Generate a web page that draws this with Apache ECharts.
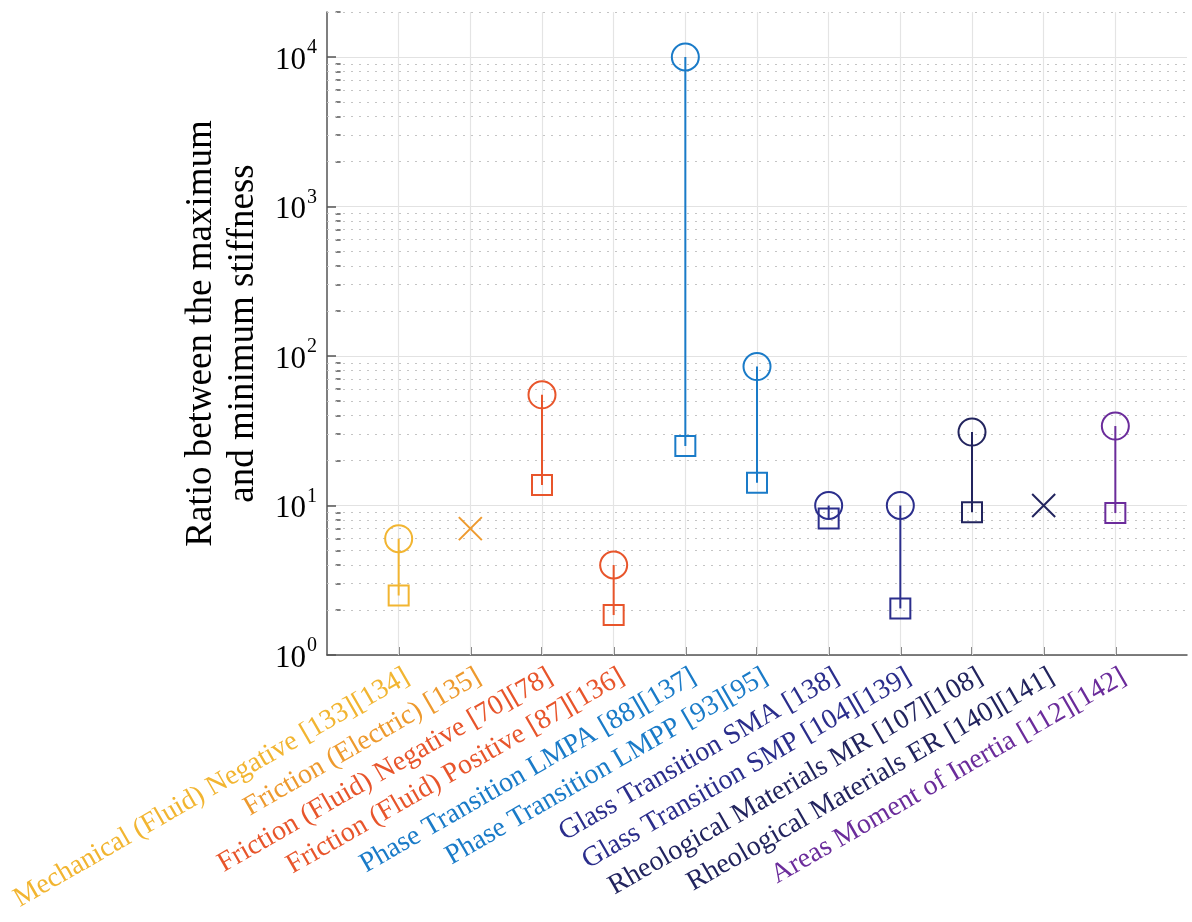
<!DOCTYPE html>
<html>
<head>
<meta charset="utf-8">
<script src="https://cdn.jsdelivr.net/npm/echarts@6/dist/echarts.min.js"></script>
<style>html,body{margin:0;padding:0;background:#fff;}#c{width:1192px;height:922px;}</style>
</head>
<body>
<div id="c"></div>
<script>
const categories = [
  'Mechanical (Fluid) Negative [133][134]',
  'Friction (Electric) [135]',
  'Friction (Fluid) Negative [70][78]',
  'Friction (Fluid) Positive [87][136]',
  'Phase Transition LMPA [88][137]',
  'Phase Transition LMPP [93][95]',
  'Glass Transition SMA [138]',
  'Glass Transition SMP [104][139]',
  'Rheological Materials MR [107][108]',
  'Rheological Materials ER [140][141]',
  'Areas Moment of Inertia [112][142]'
];
const colors = ['#F2B531','#EE9A2E','#E8552B','#E8552B','#1A7BC8','#1A7BC8','#2B2E8C','#2B2E8C','#22245E','#22245E','#6B2C9B'];
const maxVals = [6, null, 55, 4, 10000, 85, 10, 10, 31, null, 34];
const minVals = [2.5, null, 13.7, 1.85, 25, 14.2, 8.2, 2.05, 9, null, 8.9];
const singleVals = [null, 7, null, null, null, null, null, null, null, 10, null];
const yMajorTicks = [1, 10, 100, 1000, 10000];
const yMinorTicks = [2,3,4,5,6,7,8,9,20,30,40,50,60,70,80,90,200,300,400,500,600,700,800,900,2000,3000,4000,5000,6000,7000,8000,9000,20000];

const FONT = "'Liberation Serif','Times New Roman',serif";
const xPos = categories.map((c, i) => i + 1);

const series = [];
// minor grid + vertical grid via markLines
series.push({
  type: 'line', data: [], xAxisIndex: 0, yAxisIndex: 0, z: 1, silent: true,
  markLine: {
    silent: true, z: 1, symbol: ['none','none'], label: {show: false}, animation: false,
    lineStyle: {type: [2, 6], color: '#c4c4c4', width: 1.2},
    emphasis: {disabled: true},
    data: yMinorTicks.map(v => ({yAxis: v}))
  }
});
series.push({
  type: 'line', data: [], xAxisIndex: 0, yAxisIndex: 0, z: 1, silent: true,
  markLine: {
    silent: true, z: 1, symbol: ['none','none'], label: {show: false}, animation: false,
    lineStyle: {type: 'solid', color: '#e4e4e4', width: 1.2},
    emphasis: {disabled: true},
    data: xPos.map(v => ({xAxis: v}))
  }
});
// connecting lines
categories.forEach((c, i) => {
  if (maxVals[i] != null && minVals[i] != null) {
    series.push({
      type: 'line', xAxisIndex: 0, yAxisIndex: 0, z: 3, silent: true,
      showSymbol: false, symbol: 'none',
      lineStyle: {color: colors[i], width: 2, opacity: 1},
      emphasis: {disabled: true},
      data: [[xPos[i], maxVals[i]], [xPos[i], minVals[i]]]
    });
  }
});
const circleData = [], squareData = [], crossData = [];
categories.forEach((c, i) => {
  if (maxVals[i] != null) circleData.push({value: [xPos[i], maxVals[i]], itemStyle: {borderColor: colors[i]}});
  if (minVals[i] != null) squareData.push({value: [xPos[i], minVals[i]], itemStyle: {borderColor: colors[i]}});
  if (singleVals[i] != null) crossData.push({value: [xPos[i], singleVals[i]], itemStyle: {borderColor: colors[i]}});
});
series.push({
  type: 'scatter', xAxisIndex: 0, yAxisIndex: 0, z: 6, symbol: 'circle', symbolSize: 27,
  itemStyle: {color: 'rgba(0,0,0,0)', borderWidth: 2, opacity: 1}, data: circleData
});
series.push({
  type: 'scatter', xAxisIndex: 0, yAxisIndex: 0, z: 6, symbol: 'rect', symbolSize: 20,
  itemStyle: {color: 'rgba(0,0,0,0)', borderWidth: 2, opacity: 1}, data: squareData
});
series.push({
  type: 'scatter', xAxisIndex: 0, yAxisIndex: 0, z: 6, symbol: 'path://M0,0L10,10M10,0L0,10', symbolSize: 23,
  itemStyle: {color: 'rgba(0,0,0,0)', borderWidth: 2, opacity: 1}, data: crossData
});

const chart = echarts.init(document.getElementById('c'), null, {renderer: 'canvas'});
chart.setOption({
  animation: false,
  backgroundColor: '#fff',
  grid: {left: 327, top: 12, width: 860, height: 643, containLabel: false},
  xAxis: [{
    type: 'value', min: 0, max: 12, interval: 1,
    axisLine: {show: true, onZero: false, lineStyle: {color: '#555', width: 1.5}},
    axisTick: {show: true, inside: true, length: 8, lineStyle: {color: '#555', width: 1.5}, customValues: xPos},
    axisLabel: {show: false},
    splitLine: {show: false}
  }, {
    type: 'value', min: -0.12, max: 11.88, position: 'bottom',
    axisLine: {show: false}, axisTick: {show: false}, splitLine: {show: false},
    axisLabel: {
      show: true, rotate: 30, margin: 20, fontFamily: FONT, fontSize: 28,
      customValues: xPos,
      formatter: v => categories[Math.round(v) - 1] || '',
      color: v => colors[Math.round(Number(v)) - 1] || '#000'
    }
  }],
  yAxis: [{
    type: 'log', logBase: 10, min: 1, max: 20000,
    name: 'Ratio between the maximum\nand minimum stiffness',
    nameLocation: 'middle', nameGap: 62, nameRotate: 90,
    nameTextStyle: {fontFamily: FONT, fontSize: 37, color: '#000', lineHeight: 42},
    axisLine: {show: true, lineStyle: {color: '#555', width: 1.5}},
    axisTick: {show: true, inside: true, length: 9, lineStyle: {color: '#555', width: 1.5}, customValues: yMajorTicks},
    splitLine: {show: true, lineStyle: {color: '#e2e2e2', width: 1.2}},
    axisLabel: {
      show: true, margin: 10, customValues: yMajorTicks,
      formatter: v => '{b|10}{s|' + Math.round(Math.log10(v)) + '}',
      rich: {
        b: {fontFamily: FONT, fontSize: 31, color: '#000', lineHeight: 38, verticalAlign: 'bottom'},
        s: {fontFamily: FONT, fontSize: 20, color: '#000', lineHeight: 38, verticalAlign: 'top', padding: [0,0,0,1]}
      }
    }
  }, {
    type: 'log', logBase: 10, min: 1, max: 20000, position: 'left',
    axisLine: {show: false}, splitLine: {show: false}, axisLabel: {show: false},
    axisTick: {show: true, inside: true, length: 5, lineStyle: {color: '#555', width: 1.5}, customValues: yMinorTicks}
  }],
  series: series
});
</script>
</body>
</html>
